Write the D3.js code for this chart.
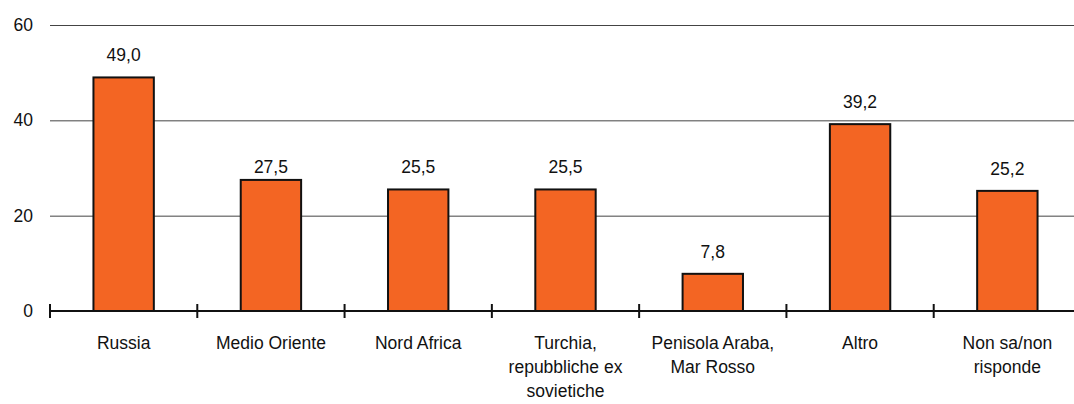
<!DOCTYPE html>
<html>
<head>
<meta charset="utf-8">
<script src="https://cdnjs.cloudflare.com/ajax/libs/d3/7.8.5/d3.min.js"></script>
<style>
  body { margin: 0; background: #fff; }
  text { font-family: "Liberation Sans", Arial, sans-serif; fill: #111; }
</style>
</head>
<body>
<div class="chart"></div>
<script>
// data
var categories = [
    ["Russia"],
    ["Medio Oriente"],
    ["Nord Africa"],
    ["Turchia,", "repubbliche ex", "sovietiche"],
    ["Penisola Araba,", "Mar Rosso"],
    ["Altro"],
    ["Non sa/non", "risponde"]
];
var values = [49.0, 27.5, 25.5, 25.5, 7.8, 39.2, 25.2];
var yTicks = [0, 20, 40, 60];

var width = 1074, height = 404;
var margin = { left: 50, right: 1081, top: 25, bottom: 311 };
var fontSize = "17.5px";

var svg = d3.select(".chart")
    .append("svg")
    .attr("width", width)
    .attr("height", height);

var x = d3.scaleBand()
    .domain(d3.range(values.length))
    .range([margin.left, margin.right])
    .paddingInner(0.59)
    .paddingOuter(0.295);

var y = d3.scaleLinear()
    .domain([0, 60])
    .range([margin.bottom, margin.top]);

// gridlines
svg.selectAll(".grid")
    .data(yTicks.filter(function (d) { return d > 0; }))
    .enter().append("line")
    .attr("x1", margin.left)
    .attr("x2", width)
    .attr("y1", function (d) { return y(d) + 0.5; })
    .attr("y2", function (d) { return y(d) + 0.5; })
    .attr("stroke", "#444")
    .attr("stroke-width", 1);

// y labels
svg.selectAll(".ylab")
    .data(yTicks)
    .enter().append("text")
    .attr("x", 33)
    .attr("y", function (d) { return y(d); })
    .attr("dy", "0.35em")
    .attr("text-anchor", "end")
    .style("font-size", fontSize)
    .text(function (d) { return d; });

// bars
svg.selectAll(".bar")
    .data(values)
    .enter().append("rect")
    .attr("x", function (d, i) { return x(i); })
    .attr("y", function (d) { return y(d); })
    .attr("width", x.bandwidth())
    .attr("height", function (d) { return y(0) - y(d); })
    .attr("fill", "#F36523")
    .attr("stroke", "#111")
    .attr("stroke-width", 2);

// value labels (the second one sits closer to its bar in the original)
svg.selectAll(".val")
    .data(values)
    .enter().append("text")
    .attr("x", function (d, i) { return x(i) + x.bandwidth() / 2; })
    .attr("y", function (d, i) { return y(d) - (i === 1 ? 7 : 16); })
    .attr("text-anchor", "middle")
    .style("font-size", fontSize)
    .text(function (d) { return d.toFixed(1).replace(".", ","); });

// x axis line
svg.append("line")
    .attr("x1", margin.left)
    .attr("x2", width)
    .attr("y1", y(0))
    .attr("y2", y(0))
    .attr("stroke", "#111")
    .attr("stroke-width", 2);

// boundary ticks
var step = x.step();
svg.selectAll(".xtick")
    .data(d3.range(values.length + 1))
    .enter().append("line")
    .attr("x1", function (i) { return margin.left + i * step; })
    .attr("x2", function (i) { return margin.left + i * step; })
    .attr("y1", y(0) - 7)
    .attr("y2", y(0) + 7)
    .attr("stroke", "#111")
    .attr("stroke-width", 2);

// category labels
var cat = svg.selectAll(".cat")
    .data(categories)
    .enter().append("text")
    .attr("text-anchor", "middle")
    .style("font-size", fontSize)
    .attr("transform", function (d, i) {
        return "translate(" + (x(i) + x.bandwidth() / 2) + "," + 349 + ")";
    });

cat.selectAll("tspan")
    .data(function (d) { return d; })
    .enter().append("tspan")
    .attr("x", 0)
    .attr("y", function (d, j) { return j * 24; })
    .text(function (d) { return d; });
</script>
</body>
</html>
